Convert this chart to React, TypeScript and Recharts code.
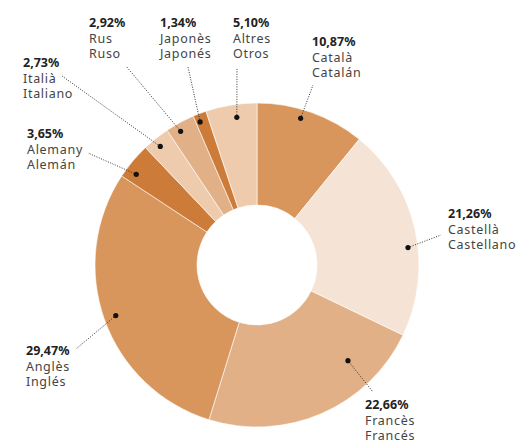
import { Cell, Pie, PieChart } from "recharts";

const languagesCa = ["Català", "Castellà", "Francès", "Anglès", "Alemany", "Italià", "Rus", "Japonès", "Altres"];
const languagesEs = ["Catalán", "Castellano", "Francés", "Inglés", "Alemán", "Italiano", "Ruso", "Japonés", "Otros"];
const shares = [10.87, 21.26, 22.66, 29.47, 3.65, 2.73, 2.92, 1.34, 5.1];

const colors = ["#d8965c", "#f5e4d6", "#e2b086", "#d8965c", "#cd7b38", "#edcbac", "#e2b086", "#cd7b38", "#edcbac"];

// label placement: dot angle shift, dot radius, end of leader line, text origin
const labelLayout = [
  { shift: 3, r: 153, end: [313, 85], text: [312, 46] },
  { shift: -6, r: 152, end: [441, 235], text: [448, 218] },
  { shift: 20, r: 132, end: [373, 392], text: [365, 409] },
  { shift: 0, r: 150, end: [76, 349], text: [26, 355] },
  { shift: 3, r: 151, end: [88, 153], text: [27, 138] },
  { shift: 0.6, r: 153, end: [62, 76], text: [23, 67] },
  { shift: 1.3, r: 154, end: [126, 66], text: [89, 27] },
  { shift: 0.9, r: 154, end: [188, 67], text: [160, 27] },
  { shift: -1.4, r: 149, end: [237, 68], text: [233, 27] },
];

const data = languagesCa.map((name, i) => ({ name, es: languagesEs[i], value: shares[i] }));

const RADIAN = Math.PI / 180;

function renderLabel(props: any) {
  const { cx, cy, midAngle, index } = props;
  const lay = labelLayout[index];
  const a = (midAngle + lay.shift) * RADIAN;
  const x = cx + Math.cos(a) * lay.r;
  const y = cy - Math.sin(a) * lay.r;
  const [tx, ty] = lay.text;
  return (
    <g key={`lbl-${index}`}>
      <line x1={x} y1={y} x2={lay.end[0]} y2={lay.end[1]} stroke="#333" strokeWidth={1} strokeDasharray="1 1.5" />
      <circle cx={x} cy={y} r={2.6} fill="#111" />
      <text x={tx} y={ty} fontSize={12.5} fontFamily="'Noto Sans', sans-serif" fill="#222">
        <tspan x={tx} fontWeight={700}>{shares[index].toFixed(2).replace(".", ",")}%</tspan>
        <tspan x={tx} dy={15.5} fill="#444" letterSpacing={0.7}>{languagesCa[index]}</tspan>
        <tspan x={tx} dy={15.5} fill="#444" letterSpacing={0.7}>{languagesEs[index]}</tspan>
      </text>
    </g>
  );
}

export default function App() {
  return (
    <div>
      <style>{"body{margin:0}"}</style>
      <PieChart width={523} height={444} margin={{ top: 0, right: 0, bottom: 0, left: 0 }}>
        <Pie
          data={data}
          dataKey="value"
          cx={257}
          cy={265}
          innerRadius={60}
          outerRadius={162}
          startAngle={90}
          endAngle={-270}
          stroke="#fff"
          strokeWidth={0.6}
          label={renderLabel}
          labelLine={false}
          isAnimationActive={false}
        >
          {data.map((_, i) => (
            <Cell key={`cell-${i}`} fill={colors[i]} />
          ))}
        </Pie>
      </PieChart>
    </div>
  );
}
